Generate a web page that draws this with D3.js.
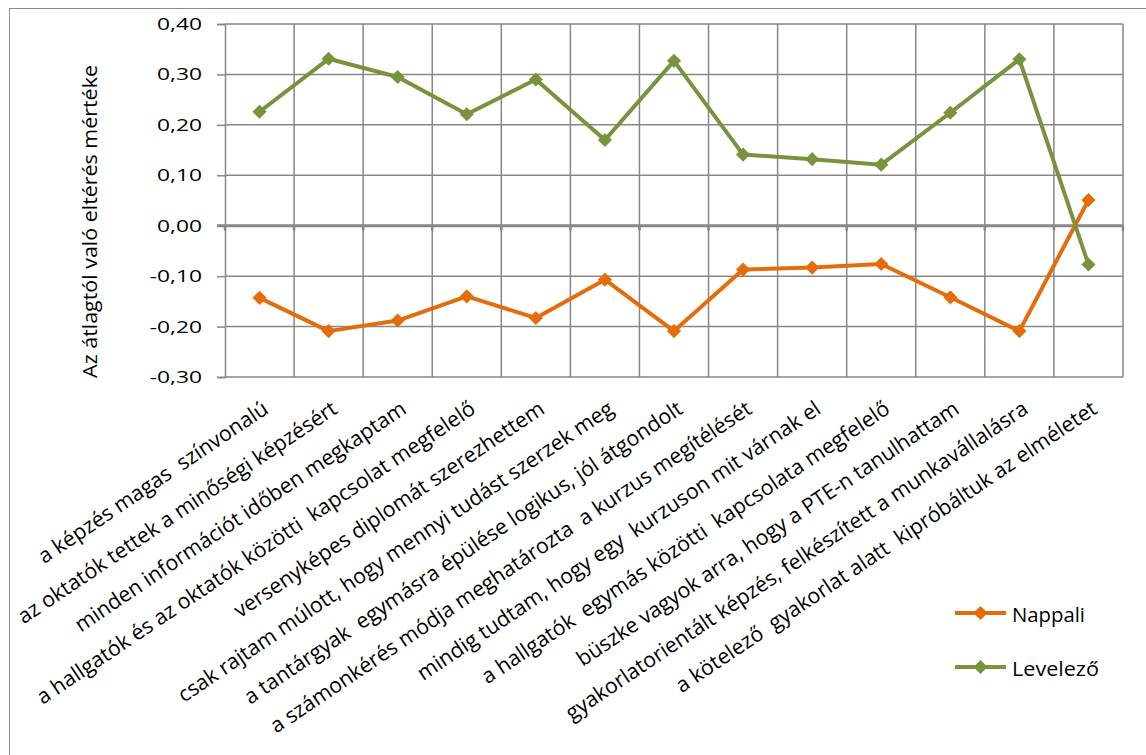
<!DOCTYPE html>
<html>
<head>
<meta charset="utf-8">
<script src="https://cdn.jsdelivr.net/npm/d3@7"></script>
<style>
  html, body { margin: 0; padding: 0; background: #fff; }
  svg text { font-family: "Open Sans", "Noto Sans", sans-serif; fill: #000; white-space: pre; }
</style>
</head>
<body>
<svg id="chart" width="1146" height="755"></svg>
<script>
const categories = [
  "a képzés magas  színvonalú",
  "az oktatók tettek a minőségi képzésért",
  "minden információt időben megkaptam",
  "a hallgatók és az oktatók közötti  kapcsolat megfelelő",
  "versenyképes diplomát szerezhettem",
  "csak rajtam múlott, hogy mennyi tudást szerzek meg",
  "a tantárgyak  egymásra épülése logikus, jól átgondolt",
  "a számonkérés módja meghatározta  a kurzus megítélését",
  "mindig tudtam, hogy egy  kurzuson mit várnak el",
  "a hallgatók  egymás közötti  kapcsolata megfelelő",
  "büszke vagyok arra, hogy a PTE-n tanulhattam",
  "gyakorlatorientált képzés, felkészített a munkavállalásra",
  "a kötelező  gyakorlat alatt  kipróbáltuk az elméletet"
];
const nappali  = [-0.143, -0.209, -0.188, -0.140, -0.183, -0.107, -0.209, -0.087, -0.083, -0.076, -0.142, -0.209, 0.051];
const levelezo = [ 0.226,  0.331,  0.295,  0.221,  0.290,  0.170,  0.327,  0.141,  0.132,  0.121,  0.224,  0.330, -0.077];
const yTicks = [0.40, 0.30, 0.20, 0.10, 0.00, -0.10, -0.20, -0.30];
const seriesNames = ["Nappali", "Levelező"];
const seriesColors = ["#E46C0A", "#77933C"];
const yTitle = "Az átlagtól való eltérés mértéke";

const svg = d3.select("#chart");
const W = 1146, H = 755;
const pLeft = 225, pRight = 1123, pTop = 24, pBottom = 377;
const grid = "#878787";

// outer frame
svg.append("rect").attr("x", 9.5).attr("y", 8.5).attr("width", W).attr("height", H)
  .attr("fill", "none").attr("stroke", "#8c8c8c").attr("stroke-width", 1);

const x = d3.scaleBand().domain(categories).range([pLeft, pRight]).padding(0);
const y = d3.scaleLinear().domain([-0.30, 0.40]).range([pBottom, pTop]);
const fmt = v => d3.format(".2f")(v).replace(".", ",").replace("−", "-");

// y axis with outward ticks
const yAxis = d3.axisLeft(y).tickValues(yTicks).tickSize(8).tickFormat("");
const ga = svg.append("g").attr("transform", `translate(${pLeft},0)`).call(yAxis);
ga.select(".domain").attr("stroke", grid).attr("stroke-width", 1.5);
ga.selectAll(".tick line").attr("stroke", grid).attr("stroke-width", 1.5);

// horizontal gridlines
svg.append("g").selectAll("line").data(yTicks).join("line")
  .attr("x1", pLeft).attr("x2", pRight)
  .attr("y1", d => y(d)).attr("y2", d => y(d))
  .attr("stroke", grid).attr("stroke-width", 1.5);

// vertical gridlines at category boundaries
const bounds = categories.map(c => x(c)).concat([x(categories[categories.length - 1]) + x.bandwidth()]);
svg.append("g").selectAll("line").data(bounds.slice(1)).join("line")
  .attr("x1", d => d).attr("x2", d => d).attr("y1", pTop).attr("y2", pBottom)
  .attr("stroke", grid).attr("stroke-width", 1.5);

// zero axis line with ticks
svg.append("line").attr("x1", pLeft - 8).attr("x2", pRight).attr("y1", y(0)).attr("y2", y(0))
  .attr("stroke", grid).attr("stroke-width", 3);
svg.append("g").selectAll("line").data(bounds).join("line")
  .attr("x1", d => d).attr("x2", d => d).attr("y1", y(0)).attr("y2", y(0) + 5)
  .attr("stroke", grid).attr("stroke-width", 2.5);

// y tick labels
const tl = svg.append("g").selectAll("g").data(yTicks).join("g")
  .attr("transform", d => `translate(202,${y(d)})`);
const tlt = tl.append("text").attr("text-anchor", "end").attr("dy", "0.36em")
  .style("font-size", "16.5px").text(fmt);
tlt.each(function(d) {
  const w = this.getComputedTextLength();
  const s = 45 / (fmt(0.4).length ? this.getComputedTextLength() : w);
  d3.select(this.parentNode).attr("transform", `translate(202,${y(d)}) scale(1.38,1)`);
});

// y title
const yt = svg.append("text").attr("transform", `translate(97,221.5) rotate(-90)`)
  .attr("text-anchor", "middle").style("font-size", "20px").text(yTitle);
{
  const w = yt.node().getComputedTextLength();
  yt.attr("transform", `translate(97,221.5) rotate(-90) scale(${313 / w},1)`);
}

// category labels
const angle = -34;
const cl = svg.append("g").selectAll("text").data(categories).join("text")
  .attr("text-anchor", "end").attr("dy", "0.35em")
  .style("font-size", "16px").text(d => d);
const len4 = cl.filter((d, i) => i === 3).node().getComputedTextLength();
const fs = 16 * 524 / len4;
cl.style("font-size", fs + "px")
  .attr("transform", d => `translate(${x(d) + x.bandwidth() / 2 + 6},${406}) rotate(${angle})`);

// series
const series = [nappali, levelezo];
const line = d3.line().x((d, i) => x(categories[i]) + x.bandwidth() / 2).y(d => y(d));
const diamond = d3.symbol().type(d3.symbolSquare).size(100);
series.forEach((vals, si) => {
  svg.append("path").datum(vals).attr("d", line)
    .attr("fill", "none").attr("stroke", seriesColors[si]).attr("stroke-width", 4)
    .attr("stroke-linejoin", "round");
  svg.append("g").selectAll("path").data(vals).join("path")
    .attr("d", diamond)
    .attr("transform", (d, i) => `translate(${x(categories[i]) + x.bandwidth() / 2},${y(d)}) rotate(45)`)
    .attr("fill", seriesColors[si]);
});

// legend
const legY = [613, 667];
const legW = [73, 87];
seriesNames.forEach((n, i) => {
  const g = svg.append("g").attr("transform", `translate(955,${legY[i]})`);
  g.append("line").attr("x1", 0).attr("x2", 51).attr("y1", 0).attr("y2", 0)
    .attr("stroke", seriesColors[i]).attr("stroke-width", 4);
  g.append("path").attr("d", diamond).attr("transform", "translate(25.5,0) rotate(45)")
    .attr("fill", seriesColors[i]);
  const t = g.append("text").attr("x", 0).attr("y", 8.5).style("font-size", "19.5px").text(n);
  const w = t.node().getComputedTextLength();
  t.attr("transform", `translate(57,0) scale(${legW[i] / w},1)`);
});
</script>
</body>
</html>
